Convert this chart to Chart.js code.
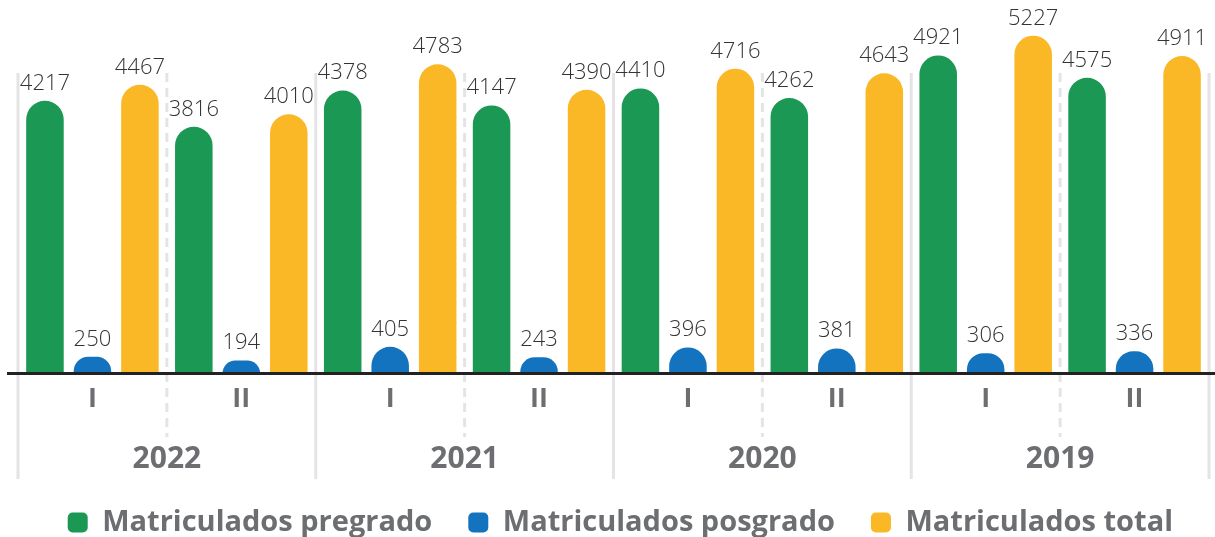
<!DOCTYPE html>
<html><head><meta charset="utf-8">
<script src="https://cdn.jsdelivr.net/npm/chart.js@4.4.1/dist/chart.umd.min.js"></script>
<style>html,body{margin:0;padding:0;background:#fff}#wrap{width:1215px;height:537px}</style>
</head><body><div id="wrap"><canvas id="c" width="1215" height="537"></canvas></div>
<script>
const semesters = ['I','II','I','II','I','II','I','II'];
const years = ['2022','2021','2020','2019'];
const pregrado = [4217,3816,4378,4147,4410,4262,4921,4575];
const posgrado = [250,194,405,243,396,381,306,336];
const total = [4467,4010,4783,4390,4716,4643,5227,4911];
const seriesNames = ['Matriculados pregrado','Matriculados posgrado','Matriculados total'];
const seriesColors = ['#1b9854','#1473be','#fbb826'];

const FONT = '"Open Sans", "Liberation Sans", sans-serif';
const AXIS_GREY = '#6d6e71';

const decor = {
  id: 'decor',
  beforeDatasetsDraw(chart) {
    const ctx = chart.ctx, xs = chart.scales.x, ca = chart.chartArea;
    const n = xs.ticks.length;
    ctx.save();
    ctx.strokeStyle = '#e4e4e6';
    ctx.lineWidth = 3;
    for (let i = 0; i <= n; i++) {
      let px;
      if (i === 0) px = ca.left;
      else if (i === n) px = ca.right;
      else px = (xs.getPixelForValue(i - 1) + xs.getPixelForValue(i)) / 2;
      const isYear = i % 2 === 0;
      ctx.setLineDash(isYear ? [] : [9, 6]);
      ctx.beginPath();
      ctx.moveTo(px, ca.top + 73);
      ctx.lineTo(px, isYear ? ca.bottom + 106 : ca.bottom + 64);
      ctx.stroke();
    }
    ctx.restore();
  },
  afterDatasetsDraw(chart) {
    const ctx = chart.ctx, ca = chart.chartArea;
    ctx.save();
    ctx.strokeStyle = '#222';
    ctx.lineWidth = 3;
    ctx.beginPath();
    ctx.moveTo(ca.left - 11, ca.bottom + 0.5);
    ctx.lineTo(chart.width, ca.bottom + 0.5);
    ctx.stroke();
    ctx.font = '300 22px ' + FONT;
    ctx.fillStyle = '#333';
    ctx.textAlign = 'center';
    ctx.textBaseline = 'alphabetic';
    chart.data.datasets.forEach((ds, di) => {
      const meta = chart.getDatasetMeta(di);
      meta.data.forEach((el, i) => {
        ctx.fillText(String(ds.data[i]), el.x, el.y - 11);
      });
    });
    ctx.restore();
  }
};

const seriesData = [pregrado, posgrado, total];
new Chart(document.getElementById('c'), {
  type: 'bar',
  data: {
    labels: semesters,
    datasets: seriesNames.map((name, i) => ({
      label: name,
      data: seriesData[i],
      backgroundColor: seriesColors[i],
      borderWidth: 0,
      base: -200,
      clip: {left: false, right: false, top: false, bottom: 0},
      borderRadius: {topLeft: 19, topRight: 19, bottomLeft: 0, bottomRight: 0},
      borderSkipped: 'bottom',
      categoryPercentage: 0.957,
      barPercentage: 0.79
    }))
  },
  options: {
    responsive: false,
    animation: false,
    events: [],
    layout: {padding: {left: 18, right: 6, top: 0, bottom: -10}},
    plugins: {
      tooltip: {enabled: false},
      legend: {
        position: 'bottom',
        align: 'end',
        labels: {
          usePointStyle: false,
          boxWidth: 20, boxHeight: 20,
          useBorderRadius: true,
          borderRadius: 5,
          padding: 36,
          color: AXIS_GREY,
          font: {family: FONT, size: 29, weight: 'bold', lineHeight: 1}
        }
      }
    },
    scales: {
      x: {
        weight: 0,
        grid: {display: false, drawTicks: false},
        border: {display: false},
        ticks: {color: AXIS_GREY, padding: 5, font: {family: FONT, size: 27, weight: 'bold', lineHeight: 1.556}},
        afterFit(s) { s.height = 40; }
      },
      x2: {
        type: 'category',
        axis: 'x',
        position: 'bottom',
        weight: 1,
        labels: years,
        offset: true,
        grid: {display: false, drawTicks: false},
        border: {display: false},
        ticks: {color: AXIS_GREY, padding: 31, font: {family: FONT, size: 30, weight: 'bold', lineHeight: 1}},
        afterFit(s) { s.height = 59; }
      },
      y: {
        display: false,
        min: 0,
        max: 5780
      }
    }
  },
  plugins: [decor]
});
</script></body></html>
